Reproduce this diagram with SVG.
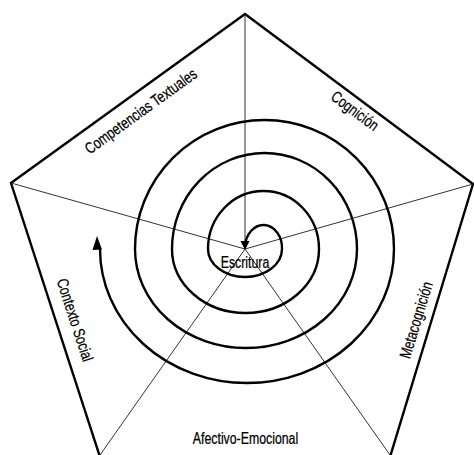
<svg xmlns="http://www.w3.org/2000/svg" width="474" height="455" viewBox="0 0 474 455">
  <style>
    .edge { fill: none; stroke: #000; stroke-width: 2.4; stroke-linejoin: miter; }
    .spoke { stroke: #333; stroke-width: 1; fill: none; }
    .spiral { fill: none; stroke: #000; stroke-width: 2.4; }
    .lbl { font-family: "Liberation Sans", Arial, sans-serif; font-size: 16px; fill: #000; stroke: #000; stroke-width: 0.25; text-anchor: middle; }
  </style>
  <rect width="474" height="455" fill="#fff"/>
  <g id="pentagon">
    <polygon class="edge" points="245,14 473,184 390,457 100,457 11,183"/>
  </g>
  <g id="connectors">
    <line class="spoke" x1="245" y1="249" x2="245" y2="14"/>
    <line class="spoke" x1="245" y1="249" x2="11" y2="183"/>
    <line class="spoke" x1="245" y1="249" x2="473" y2="184"/>
    <line class="spoke" x1="245" y1="249" x2="100" y2="455"/>
    <line class="spoke" x1="245" y1="249" x2="390" y2="455"/>
  </g>
  <g id="spiral">
    <path class="spiral" d="M245,247 A18.5,23 0 0 1 282,249 A37,28 0 0 1 208,249 A55.5,58 0 0 1 319,249 A73.5,64 0 0 1 172,249 A92.5,96 0 0 1 357,249 A111,99 0 0 1 135,249 A129.5,129 0 0 1 394,249 A147,134 0 0 1 100,249 L99,247"/>
    <polygon points="97,236 92.5,250 102,249.5" fill="#000"/>
    <polygon points="240.5,241 249.5,241 245,250" fill="#000"/>
  </g>
  <g id="node-escritura">
    <text class="lbl" transform="translate(245,268) scale(0.77,1)">Escritura</text>
  </g>
  <g id="node-competencias">
    <text class="lbl" transform="translate(144,115.5) rotate(-35.8) scale(0.77,1)">Competencias Textuales</text>
  </g>
  <g id="node-cognicion">
    <text class="lbl" transform="translate(351.7,115.2) rotate(36.7) scale(0.77,1)">Cognición</text>
  </g>
  <g id="node-contexto">
    <text class="lbl" transform="translate(69.8,321.7) rotate(71.9) scale(0.77,1)">Contexto Social</text>
  </g>
  <g id="node-metacognicion">
    <text class="lbl" transform="translate(421.3,321.6) rotate(-73) scale(0.77,1)">Metacognición</text>
  </g>
  <g id="node-afectivo">
    <text class="lbl" transform="translate(245.5,444) scale(0.77,1)">Afectivo-Emocional</text>
  </g>
</svg>
